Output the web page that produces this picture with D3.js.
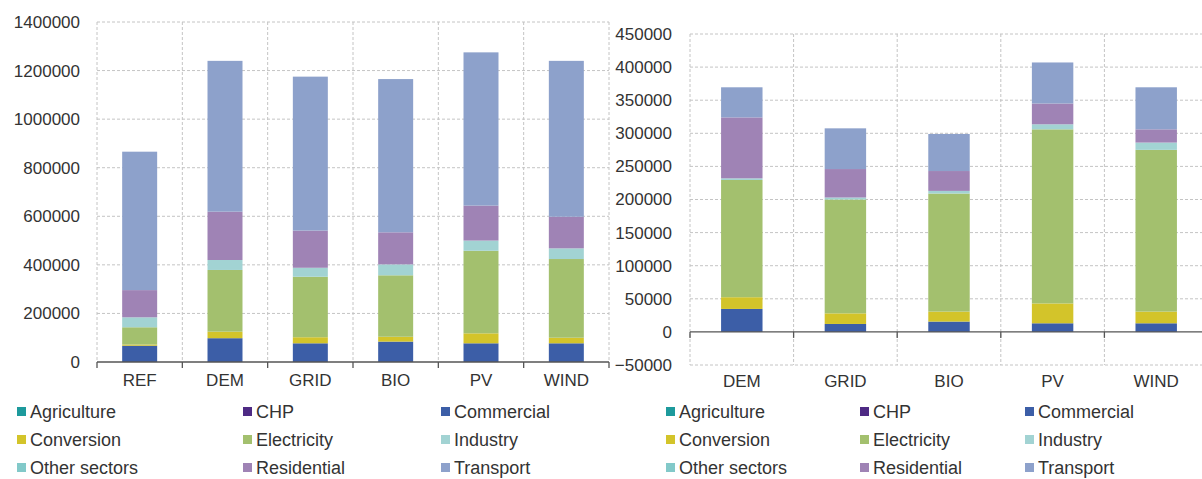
<!DOCTYPE html>
<html>
<head>
<meta charset="utf-8">
<script src="https://cdn.jsdelivr.net/npm/d3@7"></script>
<style>
  body { margin: 0; background: #fff; }
  svg { display: block; font-family: "Liberation Sans", Arial, sans-serif; }
  .tick text { fill: #333; }
  .grid line { stroke: #c4c4c4; stroke-dasharray: 3,2; }
</style>
</head>
<body>
<div id="chart"></div>
<script>
// categories
const sectors = ['Agriculture', 'CHP', 'Commercial', 'Conversion', 'Electricity',
    'Industry', 'Other sectors', 'Residential', 'Transport'];
const sectorColors = ['#1d9a9c', '#4e2a84', '#3c5ea7', '#d3c42a', '#a3c06e',
    '#a2d3d3', '#82c9c9', '#9f83b5', '#8da1cb'];

// left panel
const leftCategories = ['REF', 'DEM', 'GRID', 'BIO', 'PV', 'WIND'];
const leftTicks = [0, 200000, 400000, 600000, 800000, 1000000, 1200000, 1400000];
const leftAgriculture = [0, 0, 0, 0, 0, 0];
const leftCHP = [0, 0, 0, 0, 0, 0];
const leftCommercial = [67000, 98000, 77000, 84000, 77000, 77000];
const leftConversion = [5000, 27000, 25000, 20000, 41000, 23000];
const leftElectricity = [71000, 254000, 249000, 253000, 340000, 324000];
const leftIndustry = [41000, 41000, 37000, 45000, 42000, 44000];
const leftOther = [0, 0, 0, 0, 0, 0];
const leftResidential = [112000, 199000, 153000, 132000, 144000, 130000];
const leftTransport = [570000, 621000, 634000, 631000, 631000, 642000];

// right panel
const rightCategories = ['DEM', 'GRID', 'BIO', 'PV', 'WIND'];
const rightTicks = [-50000, 0, 50000, 100000, 150000, 200000, 250000, 300000, 350000, 400000, 450000];
const rightAgriculture = [0, 0, 0, 0, 0];
const rightCHP = [0, 0, 0, 0, 0];
const rightCommercial = [34700, 12000, 15600, 13000, 13000];
const rightConversion = [17700, 16000, 15100, 30000, 17700];
const rightElectricity = [177100, 172000, 178300, 263000, 244300];
const rightIndustry = [2500, 3000, 4000, 7600, 11000];
const rightOther = [0, 0, 0, 0, 0];
const rightResidential = [92000, 43000, 30000, 31400, 20000];
const rightTransport = [45500, 61500, 56000, 62000, 63500];

const leftSeries = [leftAgriculture, leftCHP, leftCommercial, leftConversion, leftElectricity,
    leftIndustry, leftOther, leftResidential, leftTransport];
const rightSeries = [rightAgriculture, rightCHP, rightCommercial, rightConversion, rightElectricity,
    rightIndustry, rightOther, rightResidential, rightTransport];

const svg = d3.select('#chart').append('svg')
    .attr('width', 1202)
    .attr('height', 479);

const color = d3.scaleOrdinal().domain(sectors).range(sectorColors);

function buildRows(categories, series) {
    return categories.map((c, i) => {
        const row = { category: c };
        sectors.forEach((s, j) => { row[s] = series[j][i]; });
        return row;
    });
}

function drawPanel(cfg) {
    const rows = buildRows(cfg.categories, cfg.series);
    const x = d3.scaleBand()
        .domain(cfg.categories)
        .range([cfg.left, cfg.right])
        .paddingInner(cfg.pad)
        .paddingOuter(cfg.pad / 2);
    const y = d3.scaleLinear()
        .domain([cfg.ticks[0], cfg.ticks[cfg.ticks.length - 1]])
        .range([cfg.bottom, cfg.top]);

    const g = svg.append('g');

    // boundaries between categories
    const bounds = d3.range(cfg.categories.length + 1).map(i => cfg.left + i * x.step());

    // horizontal gridlines
    g.append('g').attr('class', 'grid')
        .selectAll('line')
        .data(cfg.ticks.filter(t => t !== 0))
        .join('line')
        .attr('x1', cfg.left).attr('x2', cfg.right)
        .attr('y1', d => y(d)).attr('y2', d => y(d));

    // vertical gridlines
    g.append('g').attr('class', 'grid')
        .selectAll('line')
        .data(bounds)
        .join('line')
        .attr('x1', d => d).attr('x2', d => d)
        .attr('y1', cfg.top).attr('y2', cfg.bottom);

    // stacked bars
    const stack = d3.stack().keys(sectors)(rows);
    g.append('g').selectAll('g')
        .data(stack)
        .join('g')
        .attr('fill', d => color(d.key))
        .selectAll('rect')
        .data(d => d)
        .join('rect')
        .attr('x', d => x(d.data.category))
        .attr('width', x.bandwidth())
        .attr('y', d => y(d[1]))
        .attr('height', d => Math.max(0, y(d[0]) - y(d[1])));

    // y axis labels
    g.append('g')
        .attr('transform', `translate(${cfg.left},0)`)
        .call(d3.axisLeft(y).tickValues(cfg.ticks).tickSize(0).tickPadding(cfg.labelPad).tickFormat(d3.format('d')))
        .call(a => a.select('.domain').remove())
        .selectAll('text')
        .style('font-size', '17px');

    // zero axis line with boundary ticks
    const y0 = y(0);
    g.append('line')
        .attr('x1', cfg.left).attr('x2', cfg.right)
        .attr('y1', y0).attr('y2', y0)
        .attr('stroke', '#555').attr('stroke-width', 1.3);
    g.append('g').selectAll('line')
        .data(bounds)
        .join('line')
        .attr('x1', d => d).attr('x2', d => d)
        .attr('y1', y0).attr('y2', y0 + 6)
        .attr('stroke', '#555').attr('stroke-width', 1.3);

    // category labels
    g.append('g')
        .attr('transform', `translate(0,${cfg.catY})`)
        .call(d3.axisBottom(x).tickSize(0).tickPadding(0))
        .call(a => a.select('.domain').remove())
        .selectAll('text')
        .style('font-size', '17px');

    // legend
    const legend = g.append('g');
    sectors.forEach((s, i) => {
        const col = i % 3, row = Math.floor(i / 3);
        const lx = cfg.legendX[col], ly = 412 + row * 28;
        legend.append('rect')
            .attr('x', lx).attr('y', ly - 5)
            .attr('width', 9).attr('height', 9)
            .attr('fill', color(s));
        legend.append('text')
            .attr('x', lx + 13).attr('y', ly)
            .attr('dy', '0.35em')
            .style('font-size', '18px')
            .attr('fill', '#333')
            .text(s);
    });
}

drawPanel({
    categories: leftCategories, series: leftSeries, ticks: leftTicks,
    left: 97, right: 609, top: 22, bottom: 362, pad: 0.59,
    labelPad: 17, catY: 374, legendX: [17, 243, 441]
});

drawPanel({
    categories: rightCategories, series: rightSeries, ticks: rightTicks,
    left: 690, right: 1208, top: 34, bottom: 365, pad: 0.6,
    labelPad: 18, catY: 375, legendX: [666, 860, 1025]
});
</script>
</body>
</html>
